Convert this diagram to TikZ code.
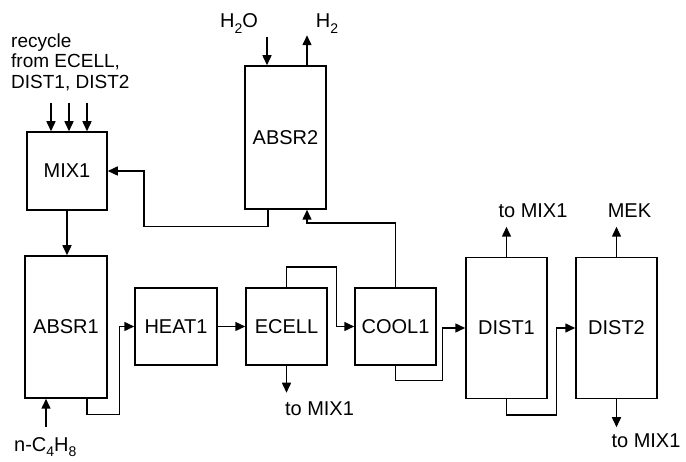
\documentclass[tikz,border=0pt]{standalone}
\usepackage{fontspec}
\setmainfont{Liberation Sans}
\usetikzlibrary{arrows.meta,calc}
\newcommand{\sbs}[1]{\raisebox{-0.28em}{\fontsize{14}{14}\selectfont #1}}
\begin{document}
\begin{tikzpicture}[x=1pt,y=-1pt,
  font=\fontsize{20}{22}\selectfont,
  unit/.style={draw,line width=1.5pt,inner sep=0pt,minimum width=#1},
  arr/.style={line width=1.5pt,-{Triangle[length=10pt,width=9pt]}},
  lbl/.style={inner sep=0pt,anchor=base},
  rlbl/.style={inner sep=0pt,anchor=base west,font=\fontsize{19}{21}\selectfont}]
\useasboundingbox (0,0) rectangle (686,462);
% units
\node[unit=80pt,minimum height=78pt] (mix1) at (67,171) {MIX1};
\node[unit=82pt,minimum height=142pt] (absr1) at (66,327) {ABSR1};
\node[unit=81pt,minimum height=143pt] (absr2) at (285.5,137.5) {ABSR2};
\node[unit=82pt,minimum height=77pt] (heat1) at (176,326.5) {HEAT1};
\node[unit=81pt,minimum height=77pt] (ecell) at (286.5,326.5) {ECELL};
\node[unit=81pt,minimum height=77pt] (cool1) at (395.5,326.5) {COOL1};
\node[unit=81pt,minimum height=141pt] (dist1) at (506.5,328) {DIST1};
\node[unit=81pt,minimum height=141pt] (dist2) at (616.5,328) {DIST2};
% labels
\node[rlbl] (rc1) at (11,47.5) {recycle};
\node[rlbl] (rc2) at (11,68) {from ECELL,};
\node[rlbl] (rc3) at (11,88.5) {DIST1, DIST2};
\node[lbl] (h2o) at (239,28) {H\sbs{2}O};
\node[lbl] (h2) at (327,28) {H\sbs{2}};
\node[lbl,anchor=base west] (feed) at (14,451) {n-C\sbs{4}H\sbs{8}};
\node[lbl] (tmA) at (319.5,416) {to MIX1};
\node[lbl] (tmB) at (533,218) {to MIX1};
\node[lbl] (mek) at (629.5,218) {MEK};
\node[lbl] (tmC) at (646,448) {to MIX1};
% free ends
\coordinate (r1) at (51,103);
\coordinate (r2) at (69,103);
\coordinate (r3) at (87,103);
\coordinate (w) at (267,37);
\coordinate (f) at (46,427);
% connectors
\draw[arr] (r1) -- (r1 |- mix1.north);
\draw[arr] (r2) -- (r2 |- mix1.north);
\draw[arr] (r3) -- (r3 |- mix1.north);
\draw[arr] (mix1.south) -- (mix1.south |- absr1.north);
\draw[arr] ([xshift=-17.5pt]absr2.south) -- ++(0,17) -| ([xshift=36pt]mix1.east) -- (mix1.east);
\draw[arr] (w) -- (w |- absr2.north);
\draw[arr] ([xshift=21.5pt]absr2.north) -- ++(0,-30);
\draw[arr] (cool1.north) -- ++(0,-64) -| ([xshift=21.5pt]absr2.south);
\draw[arr] (f) -- (f |- absr1.south);
\draw[arr] ([xshift=21pt]absr1.south) -- ++(0,16) -| ([xshift=-15pt]heat1.west) -- (heat1.west);
\draw[arr] (heat1.east) -- (ecell.west);
\draw[arr] (ecell.north) -- ++(0,-20) -| ([xshift=-18pt]cool1.west) -- (cool1.west);
\draw[arr] (ecell.south) -- ++(0,27);
\draw[arr] (cool1.south) -- ++(0,15) -| ([xshift=-23pt]dist1.west) -- (dist1.west);
\draw[arr] (dist1.north) -- ++(0,-30);
\draw[arr] (dist1.south) -- ++(0,16) -| ([xshift=-19pt]dist2.west) -- (dist2.west);
\draw[arr] (dist2.north) -- ++(0,-30);
\draw[arr] (dist2.south) -- ++(0,28);
\end{tikzpicture}
\end{document}
